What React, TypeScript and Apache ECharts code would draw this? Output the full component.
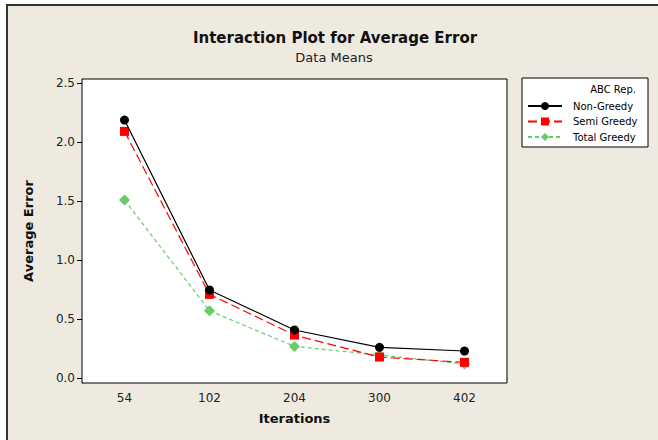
import React, { useEffect, useRef } from "react";
import * as echarts from "echarts";

const iterations = ["54", "102", "204", "300", "402"];
const nonGreedy = [2.186, 0.746, 0.407, 0.26, 0.229];
const semiGreedy = [2.09, 0.709, 0.364, 0.178, 0.133];
const totalGreedy = [1.508, 0.57, 0.268, 0.195, 0.119];
const yTicks = [0, 0.5, 1.0, 1.5, 2.0, 2.5];

const FONT = "DejaVu Sans";

export default function App() {
  const ref = useRef<HTMLDivElement>(null);
  useEffect(() => {
    document.body.style.margin = "0";
    const chart = echarts.init(ref.current!, null, { renderer: "svg" });
    chart.setOption({
      animation: false,
      backgroundColor: "#ffffff",
      textStyle: { fontFamily: FONT },
      grid: {
        left: 82,
        top: 79,
        width: 425,
        height: 304,
        show: true,
        backgroundColor: "#ffffff",
        borderColor: "#000000",
        borderWidth: 1,
        z: 1,
      },
      xAxis: {
        type: "category",
        data: iterations,
        boundaryGap: true,
        name: "Iterations",
        nameLocation: "middle",
        nameGap: 29,
        nameTextStyle: { fontSize: 13, fontWeight: "bold", color: "#111", fontFamily: FONT },
        axisLine: { lineStyle: { color: "#000", width: 1 } },
        axisTick: { alignWithLabel: true, length: 5, lineStyle: { color: "#000" } },
        axisLabel: { fontSize: 12, color: "#222", margin: 9, fontFamily: FONT },
        splitLine: { show: false },
      },
      yAxis: {
        type: "value",
        min: -0.042,
        max: 2.534,
        name: "Average Error",
        nameLocation: "middle",
        nameGap: 47,
        nameTextStyle: { fontSize: 13, fontWeight: "bold", color: "#111", fontFamily: FONT },
        axisLine: { show: true, lineStyle: { color: "#000", width: 1 } },
        axisTick: { show: true, length: 5, customValues: yTicks, lineStyle: { color: "#000" } },
        axisLabel: {
          fontSize: 12,
          color: "#222",
          margin: 7,
          customValues: yTicks,
          formatter: (v: number) => v.toFixed(1),
          fontFamily: FONT,
        },
        splitLine: { show: false },
      },
      legend: {
        orient: "vertical",
        left: 522,
        top: 96,
        itemWidth: 34,
        itemHeight: 10,
        itemGap: 5.5,
        selectedMode: false,
        textStyle: { fontSize: 10, color: "#000", padding: [0, 0, 0, 6], fontFamily: FONT },
        data: ["Non-Greedy", "Semi Greedy", "Total Greedy"],
        z: 10,
      },
      graphic: [
        {
          type: "rect",
          shape: { x: 7, y: 5, width: 700, height: 500 },
          style: { fill: "#EEEAE0", stroke: "#333333", lineWidth: 2 },
          z: -10,
          silent: true,
        },
        {
          type: "rect",
          shape: { x: 522, y: 78, width: 126, height: 69 },
          style: { fill: "#ffffff", stroke: "#000000", lineWidth: 1 },
          z: 5,
          silent: true,
        },
        {
          type: "text",
          x: 636,
          y: 89,
          z: 6,
          style: { text: "ABC Rep.", fontSize: 10, fill: "#000", align: "right", verticalAlign: "middle", fontFamily: FONT },
        },
        {
          type: "text",
          x: 335,
          y: 38,
          z: 6,
          style: {
            text: "Interaction Plot for Average Error",
            fontSize: 15,
            fontWeight: "bold",
            fill: "#111",
            align: "center",
            verticalAlign: "middle",
            fontFamily: FONT,
          },
        },
        {
          type: "text",
          x: 334,
          y: 57,
          z: 6,
          style: { text: "Data Means", fontSize: 13, fill: "#222", align: "center", verticalAlign: "middle", fontFamily: FONT },
        },
      ],
      series: [
        {
          name: "Non-Greedy",
          type: "line",
          data: nonGreedy,
          symbol: "circle",
          symbolSize: 9,
          itemStyle: { color: "#000000" },
          lineStyle: { color: "#000000", width: 1.2, type: "solid" },
          z: 4,
        },
        {
          name: "Semi Greedy",
          type: "line",
          data: semiGreedy,
          symbol: "rect",
          symbolSize: 9,
          itemStyle: { color: "#FF0000" },
          lineStyle: { color: "#FF0000", width: 1.2, type: [9, 4] },
          z: 3,
        },
        {
          name: "Total Greedy",
          type: "line",
          data: totalGreedy,
          symbol: "diamond",
          symbolSize: 11,
          itemStyle: { color: "#66CC66" },
          lineStyle: { color: "#66CC66", width: 1.2, type: [4, 3] },
          z: 2,
        },
      ],
    });
    return () => chart.dispose();
  }, []);
  return <div ref={ref} style={{ width: 658, height: 440 }} />;
}
